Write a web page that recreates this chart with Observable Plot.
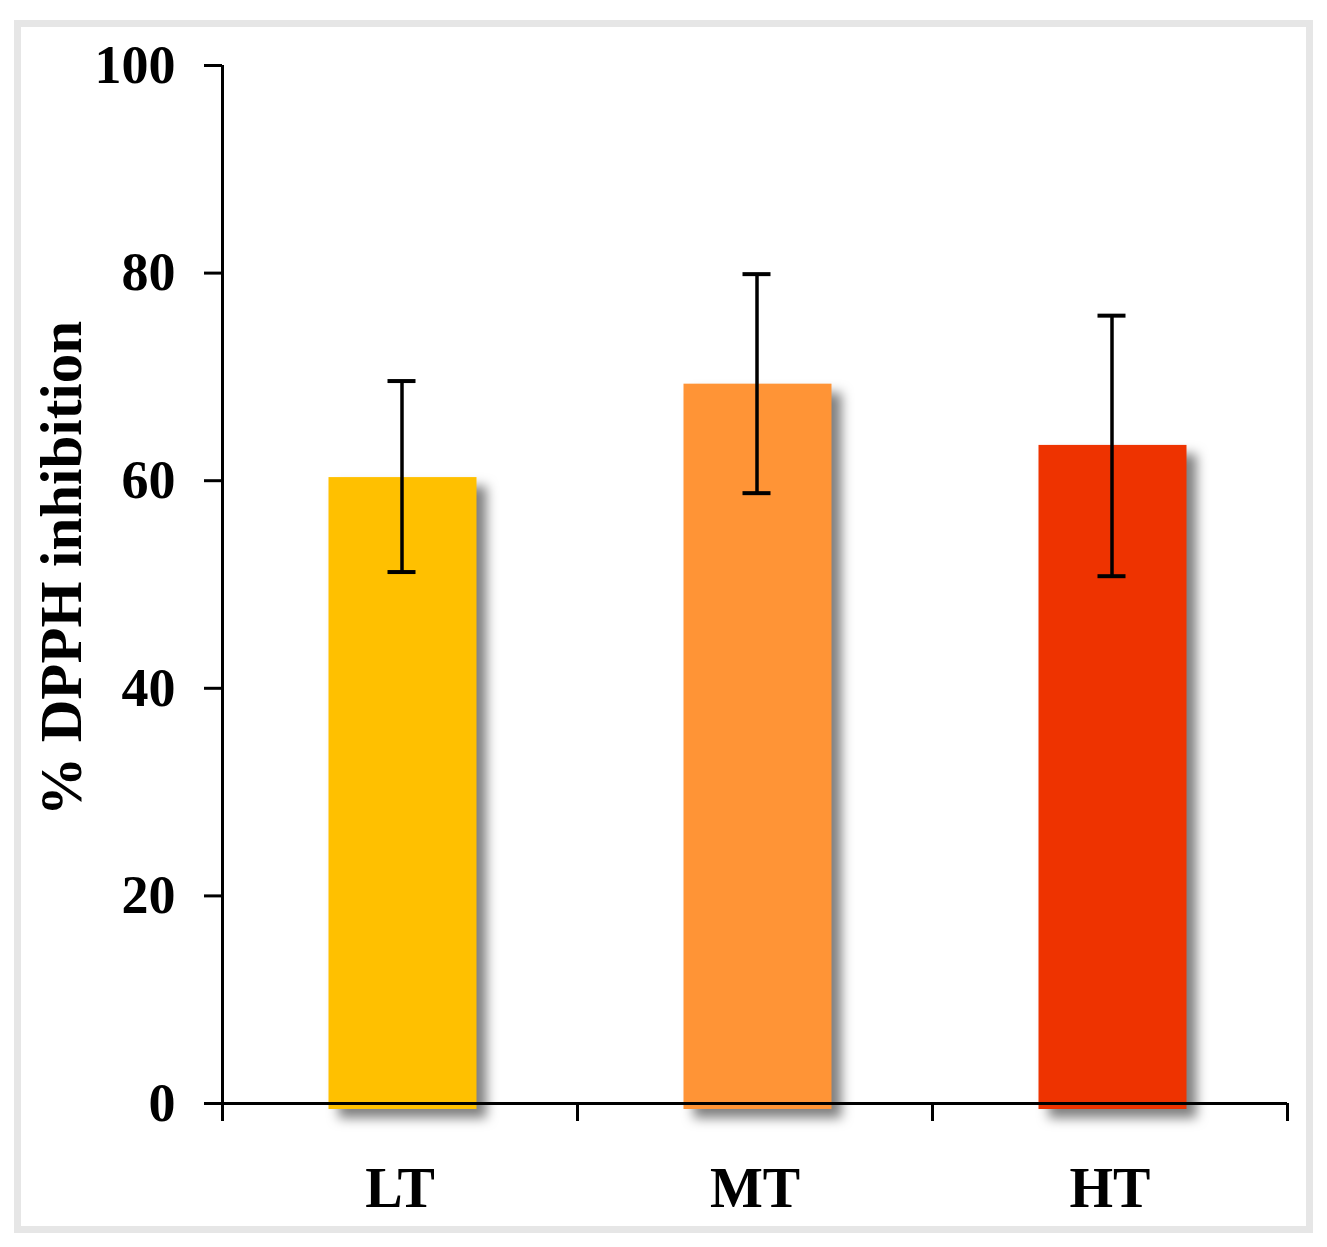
<!DOCTYPE html>
<html>
<head>
<meta charset="utf-8">
<script src="https://cdn.jsdelivr.net/npm/d3@7"></script>
<script src="https://cdn.jsdelivr.net/npm/@observablehq/plot@0.6"></script>
<style>
  html, body { margin: 0; padding: 0; background: #fff; }
  #wrap { position: relative; width: 1327px; height: 1247px; overflow: hidden; }
  #frame { position: absolute; left: 14px; top: 20px; width: 1285px; height: 1199px; border: 7px solid #e6e6e6; pointer-events: none; }
  #chart { position: absolute; left: 0; top: 0; }
</style>
</head>
<body>
<div id="wrap"><div id="chart"></div><div id="frame"></div></div>
<script>
const categories = ["LT", "MT", "HT"];
const means = [60.3, 69.3, 63.4];
const errLow = [51.2, 58.8, 50.8];
const errHigh = [69.6, 79.9, 75.9];
const colors = ["#FFC000", "#FF9436", "#EE3300"];
const yTicks = [0, 20, 40, 60, 80, 100];
const yTitle = "% DPPH inhibition";

const data = categories.map((c, i) => ({cat: c, mean: means[i], lo: errLow[i], hi: errHigh[i], color: colors[i]}));

const W = 1327, H = 1247;
const mL = 222, mR = 40, mT = 65, mB = 144;
const step = (W - mL - mR) / categories.length;
const barW = 148, capW = 28;
const font = "'Liberation Serif', 'Times New Roman', serif";

const chart = Plot.plot({
  width: W,
  height: H,
  marginLeft: mL,
  marginRight: mR,
  marginTop: mT,
  marginBottom: mB,
  style: {fontFamily: font, fontWeight: "bold", background: "transparent", color: "#000"},
  x: {domain: categories, padding: 0},
  y: {domain: [0, 100]},
  marks: [
    Plot.barY(data, {x: "cat", y: "mean", fill: "color", dx: 3, insetLeft: (step - barW) / 2, insetRight: (step - barW) / 2, insetBottom: -6}),
    Plot.ruleY([0], {stroke: "#000", strokeWidth: 3}),
    Plot.ruleX([categories[0]], {dx: -step / 2, stroke: "#000", strokeWidth: 3}),
    Plot.ruleX(categories, {x: d => d, dx: -step / 2, stroke: "#000", strokeWidth: 3, insetTop: H - mT - mB, insetBottom: -18}),
    Plot.ruleX([categories[categories.length - 1]], {x: d => d, dx: step / 2, stroke: "#000", strokeWidth: 3, insetTop: H - mT - mB, insetBottom: -18}),
    Plot.ruleX(data, {x: "cat", y1: "lo", y2: "hi", dx: 2, stroke: "#000", strokeWidth: 3.5}),
    Plot.tickY(data, {x: "cat", y: "lo", dx: 2, stroke: "#000", strokeWidth: 4, insetLeft: (step - capW) / 2, insetRight: (step - capW) / 2}),
    Plot.tickY(data, {x: "cat", y: "hi", dx: 2, stroke: "#000", strokeWidth: 4, insetLeft: (step - capW) / 2, insetRight: (step - capW) / 2}),
    Plot.axisY({ticks: yTicks, tickSize: 18, tickPadding: 29, strokeWidth: 3, fontSize: 54, fontWeight: "bold", fontFamily: font, label: null, tickFormat: d => String(d)}),
    Plot.axisX({tickSize: 0, tickPadding: 64, fontSize: 56, fontWeight: "bold", fontFamily: font, label: null}),
    Plot.text([yTitle], {frameAnchor: "left", textAnchor: "middle", lineAnchor: "middle", rotate: -90, dx: -160, dy: -16, fontSize: 59, fontWeight: "bold", fontFamily: font, fill: "#000"})
  ]
});

const barG = chart.querySelector('g[aria-label="bar"]');
if (barG) barG.style.filter = "drop-shadow(10px 9px 6px rgba(0,0,0,0.5))";
document.getElementById("chart").appendChild(chart);
</script>
</body>
</html>
